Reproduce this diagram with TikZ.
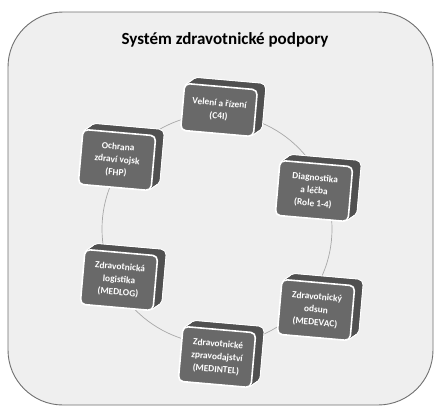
\documentclass[tikz,border=0pt]{standalone}
\usepackage{fontspec}
\setmainfont{Carlito}
\definecolor{bgfill}{HTML}{EFEFEF}
\definecolor{rimgray}{HTML}{707070}
\definecolor{facegray}{HTML}{696969}
\definecolor{backgray}{HTML}{505050}
\definecolor{ringgray}{HTML}{A8A8A8}
\tikzset{
  facebox/.style={draw=white, line width=1.6pt, fill=facegray, rounded corners=5pt,
    minimum width=73pt, minimum height=52pt, text=white, align=center,
    font=\bfseries\fontsize{9.4}{12.8}\selectfont, rotate=-5, inner sep=0.5pt},
  backbox/.style={fill=backgray, rounded corners=5pt,
    minimum width=73pt, minimum height=52pt, rotate=-5, inner sep=0pt},
  backglow/.style={draw=white, line width=2.2pt, fill=white, rounded corners=5pt,
    minimum width=73pt, minimum height=52pt, rotate=-5, inner sep=0pt},
  ring/.style={draw=ringgray, line width=0.7pt},
}
% #1 name, #2 x, #3 y, #4 height, #5 text
\newcommand{\cardbox}[5]{%
  \foreach \k in {1,...,8}{\node[backglow, minimum height=#4] at (#2+\k,#3-0.7*\k) {};}
  \foreach \k in {1,...,8}{\node[backbox, minimum height=#4] at (#2+\k,#3-0.7*\k) {};}
  \node[backbox, minimum height=#4] (#1-b) at (#2+8,#3-5.6) {};
  \node[facebox, minimum height=#4] (#1) at (#2,#3) {#5};
}
\begin{document}
\begin{tikzpicture}[x=1pt,y=-1pt]
\useasboundingbox (0,0) rectangle (434,410);
\fill[white] (0,0) rectangle (434,410);
\draw[draw=rimgray, fill=bgfill, line width=0.9pt, rounded corners=55pt] (8,12) rectangle (433,405);
\node[font=\bfseries\fontsize{17}{20}\selectfont] (title) at (225,40) {Systém zdravotnické podpory};
\draw[ring] (217,229) circle [radius=115pt];
\cardbox{c4i}{219}{110}{47pt}{Velení a řízení\\(C4I)}
\cardbox{fhp}{117}{160}{55pt}{Ochrana\\zdraví vojsk\\(FHP)}
\cardbox{diag}{314}{191}{55pt}{Diagnostika\\a léčba\\(Role 1-4)}
\cardbox{medlog}{119}{280}{55pt}{Zdravotnická\\logistika\\(MEDLOG)}
\cardbox{medevac}{316}{310}{55pt}{Zdravotnický\\odsun\\(MEDEVAC)}
\cardbox{medintel}{217}{357}{55pt}{Zdravotnické\\zpravodajství\\(MEDINTEL)}
\end{tikzpicture}
\end{document}
